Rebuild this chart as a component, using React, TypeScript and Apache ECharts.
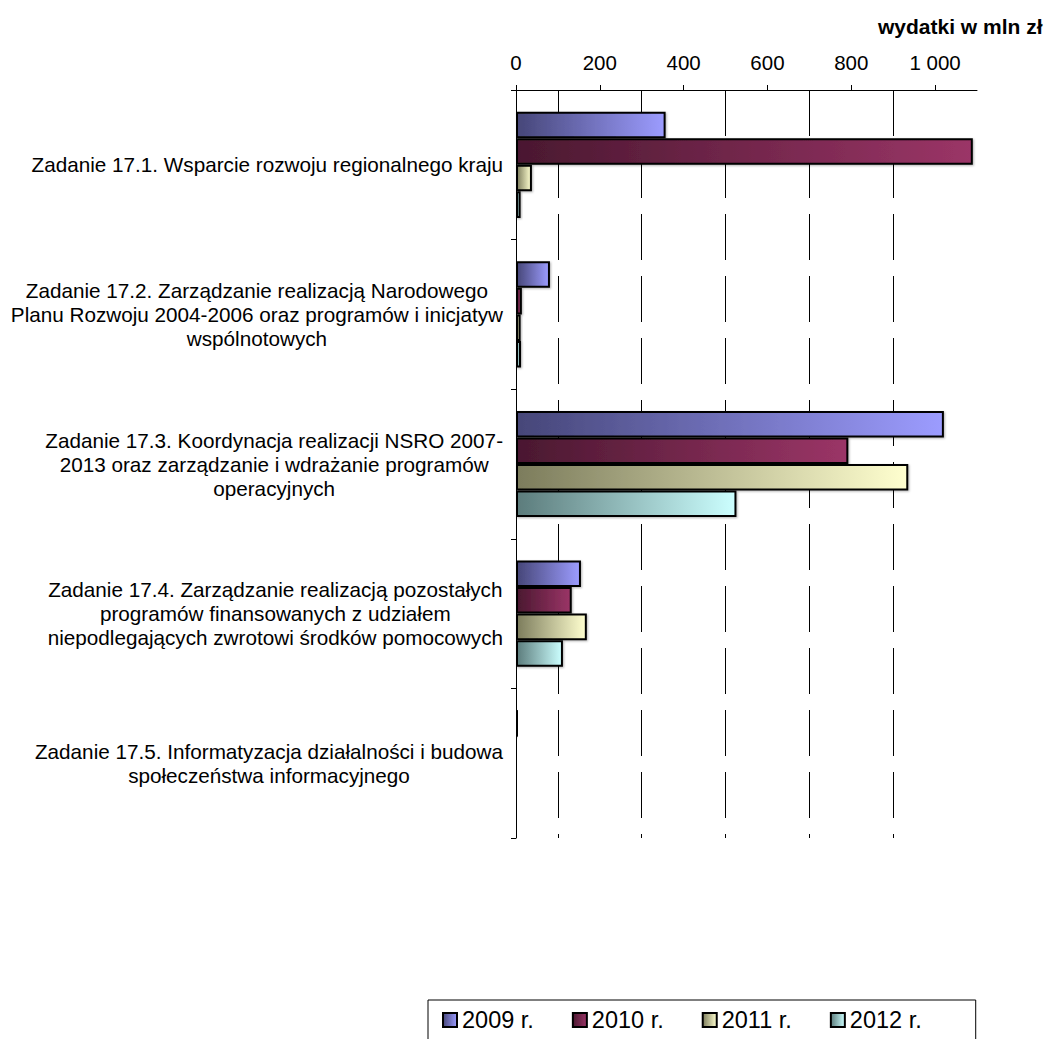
import React, { useEffect, useRef } from "react";
import * as echarts from "echarts";

const categories = [
  "Zadanie 17.1. Wsparcie rozwoju regionalnego kraju",
  "Zadanie 17.2. Zarządzanie realizacją Narodowego\nPlanu Rozwoju 2004-2006 oraz programów i inicjatyw\nwspólnotowych",
  "Zadanie 17.3. Koordynacja realizacji NSRO 2007-\n2013 oraz zarządzanie i wdrażanie programów\noperacyjnych",
  "Zadanie 17.4. Zarządzanie realizacją pozostałych\nprogramów finansowanych z udziałem\nniepodlegających zwrotowi środków pomocowych",
  "Zadanie 17.5. Informatyzacja działalności i budowa\nspołeczeństwa informacyjnego",
];

const seriesNames = ["2009 r.", "2010 r.", "2011 r.", "2012 r."];
const values2009 = [357, 81, 1021, 155, 5];
const values2010 = [1090, 14, 793, 133, 0];
const values2011 = [38, 11, 936, 169, 0];
const values2012 = [11, 12, 526, 112, 0];
const tickLabels = [0, 200, 400, 600, 800, 1000];
const gridLineValues = [100, 300, 500, 700, 900];

const gradients: [string, string][] = [
  ["#464678", "#9c9cff"],
  ["#4a1830", "#9b3567"],
  ["#7c7c5c", "#ffffcf"],
  ["#5c7c7c", "#ccffff"],
];

const FONT = "'Liberation Sans', Arial, sans-serif";

export default function App() {
  const ref = useRef<HTMLDivElement>(null);
  useEffect(() => {
    document.body.style.margin = "0";
    if (!ref.current) return;
    const chart = echarts.init(ref.current, null, { renderer: "svg" });
    const allValues = [values2009, values2010, values2011, values2012];
    const series: any[] = allValues.map((vals, i) => ({
      name: seriesNames[i],
      type: "bar",
      barGap: "0%",
      barCategoryGap: "29%",
      z: 3,
      data: vals.map((v) => (v === 0 ? null : v)),
      itemStyle: {
        color: new echarts.graphic.LinearGradient(0, 0, 1, 0, [
          { offset: 0, color: gradients[i][0] },
          { offset: 1, color: gradients[i][1] },
        ]),
        borderColor: "#000",
        borderWidth: 2,
        shadowColor: "rgba(0,0,0,0.3)",
        shadowBlur: 2,
        shadowOffsetX: 1,
        shadowOffsetY: 1,
      },
      emphasis: { disabled: true },
      ...(i === 0
        ? {
            markLine: {
              silent: true,
              z: 1,
              symbol: ["none", "none"],
              label: { show: false },
              lineStyle: { color: "#000", type: [46, 16], width: 1 },
              data: gridLineValues.map((v) => ({ xAxis: v })),
            },
          }
        : {}),
    }));

    chart.setOption({
      animation: false,
      textStyle: { fontFamily: FONT },
      title: {
        text: "wydatki w mln zł",
        left: 878,
        top: 16,
        padding: 0,
        textStyle: { fontSize: 21, fontWeight: "bold", color: "#000", fontFamily: FONT },
      },
      legend: {
        data: seriesNames,
        left: 428,
        top: 1000,
        orient: "horizontal",
        itemWidth: 14,
        itemHeight: 14,
        itemGap: 38,
        padding: [8, 54, 20, 14],
        borderColor: "#000",
        borderWidth: 1,
        icon: "rect",
        textStyle: { fontSize: 23.5, color: "#000", fontFamily: FONT },
      },
      grid: { left: 516, right: 74, top: 90, bottom: 201, containLabel: false },
      xAxis: {
        type: "value",
        position: "top",
        min: 0,
        max: 1100,
        interval: 200,
        z: 2,
        axisLine: { show: true, lineStyle: { color: "#000", width: 1 } },
        axisTick: {
          show: true,
          length: 5,
          lineStyle: { color: "#000" },
          customValues: tickLabels,
        },
        axisLabel: {
          fontSize: 20.5,
          color: "#000",
          margin: 17,
          fontFamily: FONT,
          customValues: tickLabels,
          formatter: (v: number) => (v >= 1000 ? String(v).replace(/(\d)(\d{3})$/, "$1 $2") : String(v)),
        },
        splitLine: { show: false },
      },
      yAxis: {
        type: "category",
        inverse: true,
        data: categories,
        z: 2,
        axisLine: { show: true, lineStyle: { color: "#000", width: 1 } },
        axisTick: { show: true, length: 5, lineStyle: { color: "#000" } },
        axisLabel: {
          margin: 13,
          align: "right",
          color: "#000",
          fontSize: 20.7,
          lineHeight: 24,
          fontFamily: FONT,
          formatter: (v: string) =>
            v
              .split("\n")
              .map((l) => `{c|${l}}`)
              .join("\n"),
          rich: {
            c: { align: "center", fontSize: 20.7, lineHeight: 24, color: "#000", fontFamily: FONT },
          },
        },
        splitLine: { show: false },
      },
      series,
    });
    return () => chart.dispose();
  }, []);
  return <div ref={ref} style={{ width: 1051, height: 1039 }} />;
}
